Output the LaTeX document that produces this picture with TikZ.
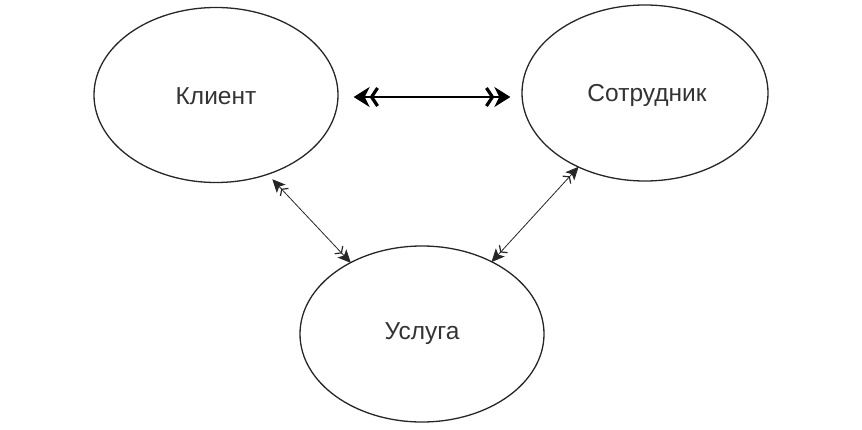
\documentclass[tikz,border=0pt]{standalone}
\usepackage{fontspec}
\setmainfont{Liberation Sans}
\usetikzlibrary{shapes.geometric,arrows.meta}
\definecolor{txt}{HTML}{333333}
\tikzset{
  ent/.style={draw=black!85, line width=1.3pt, ellipse, inner sep=0pt, minimum width=244pt, minimum height=175pt},
  lbl/.style={text=txt, font=\fontsize{24.5}{26}\selectfont},
  thintip/.tip={Straight Barb[length=4pt,width=11pt,line width=1.2pt] Stealth[length=13pt,width=12pt,inset=3pt,sep=-1pt]},
  boldtip/.tip={Straight Barb[length=6pt,width=18pt,line width=3.2pt] Stealth[length=16pt,width=20pt,inset=5pt,sep=-4pt]},
  thinrel/.style={line width=0.8pt, black!85, thintip-thintip},
  boldrel/.style={line width=2pt, black, boldtip-boldtip}
}
\begin{document}
\begin{tikzpicture}[x=1pt,y=1pt]
\useasboundingbox (0,0) rectangle (862,429);
\node[ent] (kl) at (216,334) {};
\node[ent, minimum width=246pt, minimum height=176pt] (so) at (645,336) {};
\node[ent, minimum height=176pt] (us) at (422,95) {};
\node[lbl] (klt) at (216,333) {Клиент};
\node[lbl] (sot) at (647,334) {Сотрудник};
\node[lbl] (ust) at (422,95) {Услуга};
\coordinate (k1) at (273,249);
\draw[boldrel, shorten <=19pt, shorten >=15pt] ([yshift=-2pt]kl.east) -- ([yshift=-4pt]so.west);
\draw[thinrel] (k1) -- (us.135);
\draw[thinrel] (so.-132.6) -- (us.46.6);
\end{tikzpicture}
\end{document}
